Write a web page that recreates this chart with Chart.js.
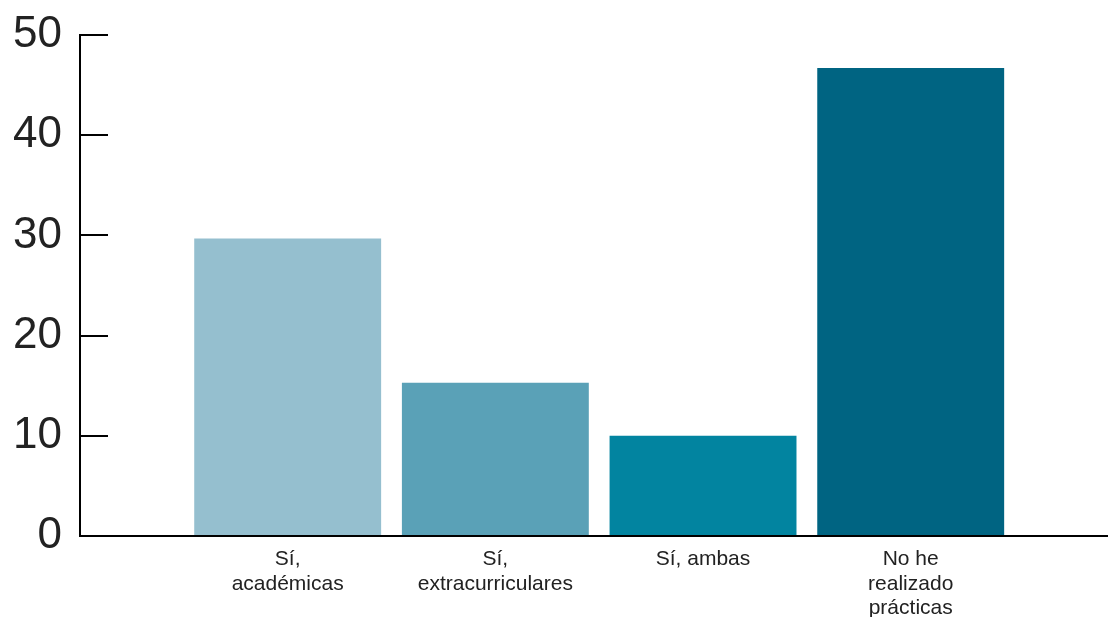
<!DOCTYPE html>
<html><head><meta charset="utf-8">
<script src="https://cdn.jsdelivr.net/npm/chart.js@4/dist/chart.umd.min.js"></script>
<style>html,body{margin:0;padding:0;background:#fff;overflow:hidden}</style>
</head><body>
<canvas id="c" width="1108" height="617"></canvas>
<script>
const categories = [["Sí,", "académicas"], ["Sí,", "extracurriculares"], ["Sí, ambas"], ["No he", "realizado", "prácticas"]];
const values = [29.7, 15.3, 10.0, 46.7];
const barColors = ["#95bfcf", "#5aa1b7", "#0284a0", "#006482"];
const yTicks = [0, 10, 20, 30, 40, 50];

const points = values.map((v, i) => ({ x: i + 1, y: v }));

new Chart(document.getElementById('c'), {
  type: 'bar',
  data: {
    datasets: [{
      data: points,
      backgroundColor: barColors,
      borderWidth: 0,
      categoryPercentage: 0.9,
      barPercentage: 1.0
    }]
  },
  options: {
    responsive: false,
    animation: false,
    devicePixelRatio: 1,
    layout: { padding: { top: 35, right: 0, left: 0, bottom: 0 } },
    plugins: { legend: { display: false }, tooltip: { enabled: false } },
    scales: {
      x: {
        type: 'linear',
        min: 0,
        max: 4.95,
        offset: false,
        grid: { display: false, drawTicks: false },
        border: { display: true, color: '#000', width: 2 },
        ticks: {
          stepSize: 1,
          autoSkip: false,
          includeBounds: false,
          maxRotation: 0,
          minRotation: 0,
          padding: 11,
          color: '#222',
          font: { family: 'Liberation Sans', size: 21, lineHeight: 1.17 },
          callback: (v) => (Number.isInteger(v) && v >= 1 && v <= categories.length) ? categories[v - 1] : ''
        },
        afterFit: (s) => { s.height = 81; s.paddingLeft = 0; s.paddingRight = 0; }
      },
      y: {
        min: yTicks[0],
        max: yTicks[yTicks.length - 1],
        afterBuildTicks: (s) => { s.ticks = yTicks.map(v => ({ value: v })); },
        grid: { drawTicks: false, color: '#000', lineWidth: 2 },
        border: { display: true, color: '#000', width: 2, dash: [27, 3000] },
        ticks: {
          padding: 18,
          color: '#222',
          font: { family: 'Liberation Sans', size: 44 }
        },
        afterFit: (s) => { s.width = 80; s.paddingTop = 0; s.paddingBottom = 0; }
      }
    }
  }
});
</script>
</body></html>
